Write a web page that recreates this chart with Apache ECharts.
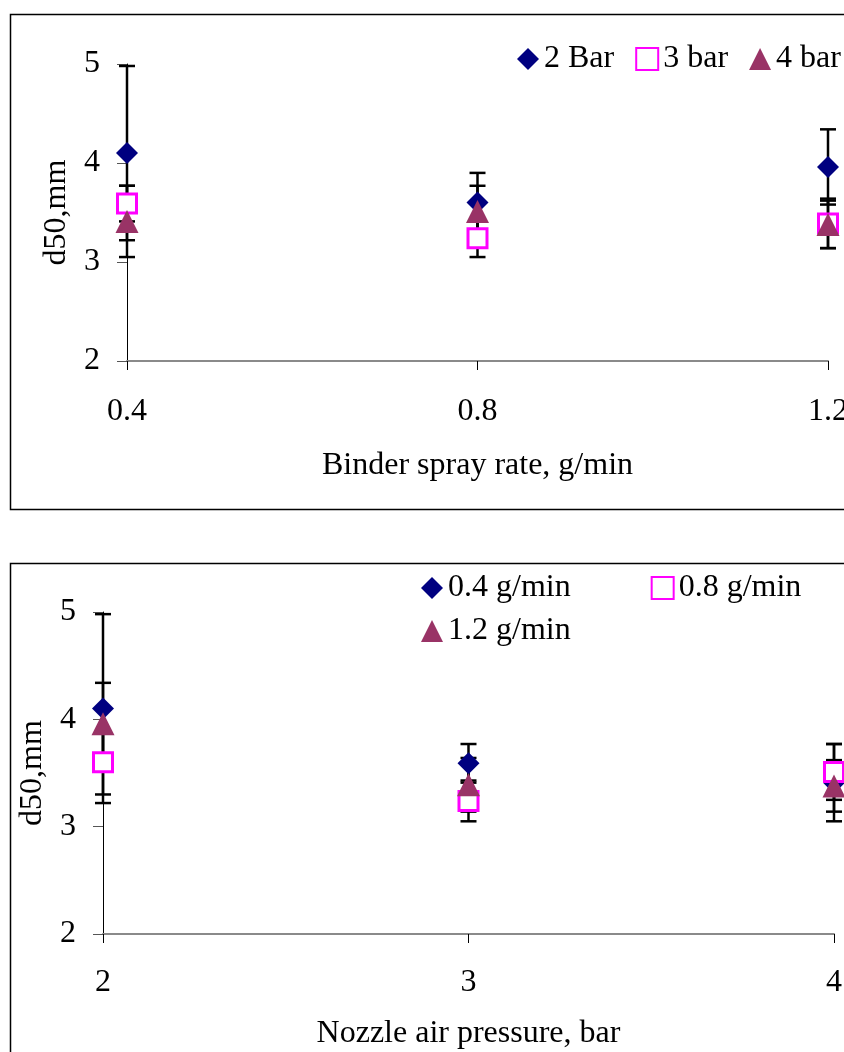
<!DOCTYPE html>
<html>
<head>
<meta charset="utf-8">
<script src="https://cdn.jsdelivr.net/npm/echarts@6/dist/echarts.min.js"></script>
<style>
html,body{margin:0;padding:0;background:#fff;}
#c{width:844px;height:1052px;}
</style>
</head>
<body>
<div id="c"></div>
<script>
// ---- data ----
const rates = [0.4, 0.8, 1.2];          // binder spray rate, g/min
const pressures = [2, 3, 4];            // nozzle air pressure, bar
const pressureNames = ['2 Bar', '3 bar', '4 bar'];
const rateNames = ['0.4 g/min', '0.8 g/min', '1.2 g/min'];
// d50 (mm) at each pressure, indexed by spray rate
const d50_2bar = [4.10, 3.60, 3.96];
const d50_3bar = [3.59, 3.24, 3.39];
const d50_4bar = [3.41, 3.51, 3.38];
// error bar half-widths
const err_2bar = [0.88, 0.30, 0.38];
const err_3bar = [0.18, 0.19, 0.25];
const err_4bar = [0.36, 0.26, 0.24];
const yTicks = [2, 3, 4, 5];

const d50 = [d50_2bar, d50_3bar, d50_4bar];
const errs = [err_2bar, err_3bar, err_4bar];

const FONT = "'Liberation Serif','Times New Roman',serif";
const FS = 32;
const styles = [
  {symbol: 'diamond', symbolSize: 22, itemStyle: {color: '#000080', opacity: 1}},
  {symbol: 'rect', symbolSize: 19, itemStyle: {color: '#ffffff', borderColor: '#ff00ff', borderWidth: 3, opacity: 1}},
  {symbol: 'triangle', symbolSize: 23, itemStyle: {color: '#993366', opacity: 1}}
];

function errRender(params, api) {
  const x = api.value(0), y = api.value(1), e = api.value(2);
  const t = api.coord([x, y + e]);
  const b = api.coord([x, y - e]);
  const h = 8;
  const st = {stroke: '#000', lineWidth: 2.5};
  return {type: 'group', children: [
    {type: 'line', shape: {x1: t[0], y1: t[1], x2: b[0], y2: b[1]}, style: st},
    {type: 'line', shape: {x1: t[0] - h, y1: t[1], x2: t[0] + h, y2: t[1]}, style: st},
    {type: 'line', shape: {x1: b[0] - h, y1: b[1], x2: b[0] + h, y2: b[1]}, style: st}
  ]};
}

const series = [];
// top chart: series per pressure, x = spray rate
pressureNames.forEach((nm, k) => {
  series.push({type: 'custom', xAxisIndex: 0, yAxisIndex: 0, z: 2, clip: false,
    renderItem: errRender, data: rates.map((r, i) => [r, d50[k][i], errs[k][i]])});
});
pressureNames.forEach((nm, k) => {
  series.push(Object.assign({type: 'scatter', name: nm, xAxisIndex: 0, yAxisIndex: 0, z: 5 + k,
    data: rates.map((r, i) => [r, d50[k][i]])}, styles[k]));
});
// bottom chart: series per spray rate, x = pressure
rateNames.forEach((nm, i) => {
  series.push({type: 'custom', xAxisIndex: 1, yAxisIndex: 1, z: 2, clip: false,
    renderItem: errRender, data: pressures.map((p, k) => [p, d50[k][i], errs[k][i]])});
});
rateNames.forEach((nm, i) => {
  series.push(Object.assign({type: 'scatter', name: nm, xAxisIndex: 1, yAxisIndex: 1, z: 5 + i,
    data: pressures.map((p, k) => [p, d50[k][i]])}, styles[i]));
});

function yAxis(gi) {
  return {type: 'value', gridIndex: gi, min: yTicks[0], max: yTicks[yTicks.length - 1], interval: 1,
    name: 'd50,mm', nameLocation: 'middle', nameGap: 54,
    nameTextStyle: {fontFamily: FONT, fontSize: FS, color: '#000'},
    axisLine: {show: true, lineStyle: {color: '#000', width: 1}},
    axisTick: {show: true, length: 10, lineStyle: {color: '#555', width: 1}},
    axisLabel: {fontFamily: FONT, fontSize: FS, color: '#000', margin: 27},
    splitLine: {show: false}};
}
function xAxis(gi, min, max, interval, name, gap, lm) {
  return {type: 'value', gridIndex: gi, min: min, max: max, interval: interval,
    name: name, nameLocation: 'middle', nameGap: gap,
    nameTextStyle: {fontFamily: FONT, fontSize: FS, color: '#000'},
    axisLine: {show: true, onZero: false, lineStyle: {color: '#8a8a8a', width: 2}},
    axisTick: {show: true, length: 9, lineStyle: {color: '#000', width: 1}},
    axisLabel: {fontFamily: FONT, fontSize: FS, color: '#000', margin: lm,
      formatter: v => (interval < 1 ? v.toFixed(1) : String(v))},
    splitLine: {show: false}};
}

const legendText = {fontFamily: FONT, fontSize: FS, color: '#000'};
const chart = echarts.init(document.getElementById('c'), null, {renderer: 'canvas'});
chart.setOption({
  animation: false,
  backgroundColor: '#fff',
  graphic: [
    {type: 'rect', shape: {x: 10.5, y: 14.5, width: 900, height: 495}, style: {fill: 'none', stroke: '#000', lineWidth: 1.5}, z: 0},
    {type: 'rect', shape: {x: 10.5, y: 563.5, width: 900, height: 600}, style: {fill: 'none', stroke: '#000', lineWidth: 1.5}, z: 0}
  ],
  grid: [
    {left: 127, right: 16, top: 64, height: 297, outerBoundsMode: 'none', containLabel: false},
    {left: 103, right: 10, top: 612, height: 322, outerBoundsMode: 'none', containLabel: false}
  ],
  xAxis: [
    xAxis(0, rates[0], rates[rates.length - 1], 0.4, 'Binder spray rate, g/min', 89, 35),
    xAxis(1, pressures[0], pressures[pressures.length - 1], 1, 'Nozzle air pressure, bar', 84, 33)
  ],
  yAxis: [yAxis(0), yAxis(1)],
  legend: [
    {data: pressureNames, left: 517, top: 43, width: 700, padding: 0, itemGap: 21,
      itemWidth: 22, itemHeight: 22, textStyle: legendText, selectedMode: false},
    {data: rateNames.slice(0, 2), left: 421, top: 572, width: 700, padding: 0, itemGap: 80,
      itemWidth: 22, itemHeight: 22, textStyle: legendText, selectedMode: false},
    {data: rateNames.slice(2), left: 421, top: 615, width: 700, padding: 0,
      itemWidth: 22, itemHeight: 22, textStyle: legendText, selectedMode: false}
  ],
  series: series
});
</script>
</body>
</html>
